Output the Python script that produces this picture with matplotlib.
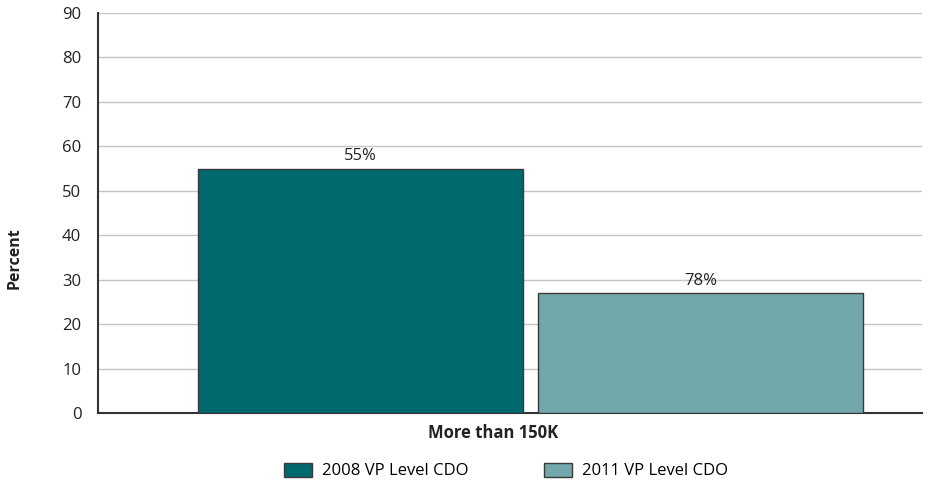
import matplotlib.pyplot as plt
from matplotlib.patches import Patch

plt.rcParams['font.family'] = ['Open Sans', 'DejaVu Sans']

category = "More than 150K"
series = ["2008 VP Level CDO", "2011 VP Level CDO"]
values = [55, 27]
bar_labels = ["55%", "78%"]
colors = ["#00696d", "#72a8ac"]
yticks = [0, 10, 20, 30, 40, 50, 60, 70, 80, 90]

fig = plt.figure(figsize=(9.51, 4.86), dpi=100)
ax = fig.add_axes([98 / 951, 1 - 413 / 486, 824 / 951, 400 / 486])

# bar positions in axis units (0..1 across the plot width)
lefts = [0.121, 0.534]
width = 0.395
for i in range(len(values)):
    ax.bar(lefts[i], values[i], width=width, align='edge', color=colors[i],
           edgecolor='#3a3a3a', linewidth=1, zorder=3)
    ax.text(lefts[i] + width / 2, values[i] + 1.0, bar_labels[i],
            ha='center', va='bottom', fontsize=12, color='#222222')

ax.set_xlim(0, 1)
ax.set_ylim(0, 90)
ax.set_yticks(yticks)
ax.set_yticklabels([str(t) for t in yticks], fontsize=12, color='#222222')
ax.tick_params(axis='y', length=0, pad=12)
ax.set_xticks([0.48])
ax.set_xticklabels([category], fontsize=12, fontweight='bold', color='#222222')
ax.tick_params(axis='x', length=0, pad=8)
ax.grid(axis='y', color='#c4c4c4', linewidth=1, zorder=0)

for s in ['top', 'right']:
    ax.spines[s].set_visible(False)
ax.spines['left'].set_color('#333333')
ax.spines['left'].set_linewidth(1.5)
ax.spines['bottom'].set_color('#333333')
ax.spines['bottom'].set_linewidth(1.5)

fig.text(15 / 951, 1 - 258 / 486, "Percent", rotation=90, ha='center', va='center',
         fontsize=11.5, fontweight='bold', color='#222222')

handles = [Patch(facecolor=colors[i], edgecolor='#3a3a3a', label=series[i])
           for i in range(len(series))]
fig.legend(handles=handles, loc='center', bbox_to_anchor=(0.532, 1 - 471 / 486),
           ncol=2, frameon=False, fontsize=12, handlelength=1.7, handleheight=0.9,
           columnspacing=4.5, handletextpad=0.6)

fig.savefig("out.png", dpi=100)
